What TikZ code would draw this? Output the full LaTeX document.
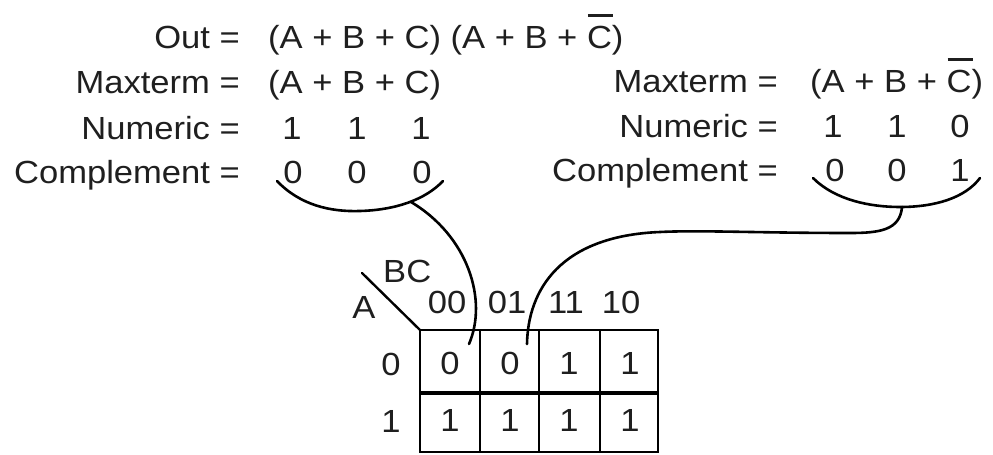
\documentclass[tikz,border=0pt]{standalone}
\usepackage{fontspec}
\setmainfont{Liberation Sans}[FakeStretch=1.08]
% complemented C: a bar set over the letter
\newcommand\Cbar{\makebox[0pt][l]{\hspace{0.03em}\rule[0.98em]{0.78em}{0.075em}}C}
\begin{document}
\begin{tikzpicture}[x=1pt,y=-1pt,
  txt/.style={inner sep=0pt, font=\fontsize{32}{38}\selectfont, text=black!88},
  lbl/.style={txt, anchor=base east},
  expr/.style={txt, anchor=base west},
  dig/.style={txt, anchor=base},
  pen/.style={line width=2.6pt, line cap=round, line join=round},
  gridline/.style={line width=2.4pt},
  midline/.style={line width=4pt}
]
\useasboundingbox (0,0) rectangle (993,455);

% ---- left column of equations ----
\node[lbl]  (outL) at (240,48) {Out =};
\node[expr] (outE) at (268,48) {(A + B + C) (A + B + \Cbar)};
\node[lbl]  (maxL) at (240,93) {Maxterm =};
\node[expr] (maxLE) at (268,93) {(A + B + C)};
\node[lbl]  (numL) at (240,139) {Numeric =};
\node[dig]  (numLa) at (292,139) {1};
\node[dig]  (numLb) at (357,139) {1};
\node[dig]  (numLc) at (421,139) {1};
\node[lbl]  (cmpL) at (240,183) {Complement =};
\node[dig]  (cmpLa) at (293,183) {0};
\node[dig]  (cmpLb) at (357,183) {0};
\node[dig]  (cmpLc) at (422,183) {0};

% ---- right column of equations ----
\node[lbl]  (maxR) at (778,92) {Maxterm =};
\node[expr] (maxRE) at (810,92) {(A + B + \Cbar)};
\node[lbl]  (numR) at (778,137) {Numeric =};
\node[dig]  (numRa) at (833,137) {1};
\node[dig]  (numRb) at (897,137) {1};
\node[dig]  (numRc) at (960,137) {0};
\node[lbl]  (cmpR) at (778,181) {Complement =};
\node[dig]  (cmpRa) at (835,181) {0};
\node[dig]  (cmpRb) at (897,181) {0};
\node[dig]  (cmpRc) at (960,181) {1};

% ---- Karnaugh map ----
\draw[gridline] (420,330) rectangle (658,452);
\draw[gridline] (480,330) -- (480,452);
\draw[gridline] (539,330) -- (539,452);
\draw[gridline] (600,330) -- (600,452);
\draw[midline] (420,393) -- (658,393);
\draw[gridline, line cap=round] (362,273) -- (420,330);

\node[expr] (bc) at (383,282) {BC};
\node[dig]  (avar) at (364,318) {A};
\node[dig]  (h00) at (447,313) {00};
\node[dig]  (h01) at (507,313) {01};
\node[dig]  (h11) at (566,313) {11};
\node[dig]  (h10) at (621,313) {10};
\node[dig]  (r0) at (391,375) {0};
\node[dig]  (r1) at (391,432) {1};

\node[dig] (c00) at (450,374) {0};
\node[dig] (c01) at (510,374) {0};
\node[dig] (c11) at (569,374) {1};
\node[dig] (c10) at (630,374) {1};
\node[dig] (d00) at (450,431) {1};
\node[dig] (d01) at (510,431) {1};
\node[dig] (d11) at (569,431) {1};
\node[dig] (d10) at (630,431) {1};

% ---- grouping arcs under the complement digits ----
\coordinate (bL) at (411,202);
\coordinate (bR) at (902,207);
\coordinate (eL) at (469,344);
\coordinate (eR) at (527,344);

\draw[pen] (277,181) .. controls (300,205) and (330,212) .. (360,211)
           .. controls (395,210) and (425,200) .. (443,181);
\draw[pen] (813,178) .. controls (835,200) and (870,207) .. (900,207)
           .. controls (935,207) and (965,198) .. (980,178);

% ---- connectors to the map cells ----
\draw[pen] (bL) .. controls (468,236) and (488,300) .. (eL);
\draw[pen] (bR) .. controls (900,230) and (880,233) .. (850,233)
           .. controls (760,233) and (700,230) .. (660,232)
           .. controls (560,236) and (528,290) .. (eR);
\end{tikzpicture}
\end{document}
